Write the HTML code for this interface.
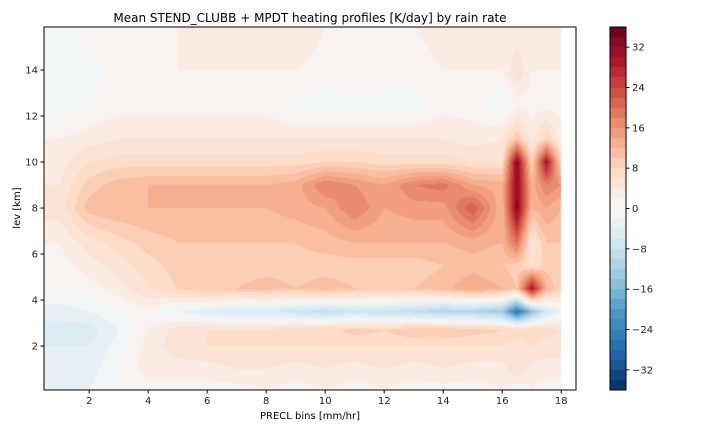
<!DOCTYPE html>
<html><head><meta charset="utf-8"><style>
body{margin:0;background:#fff;width:720px;height:432px;overflow:hidden;font-family:"DejaVu Sans","Liberation Sans",sans-serif}
#wrap{position:relative;width:720px;height:432px}
canvas{position:absolute;left:0;top:0}
svg{position:absolute;left:0;top:0}
</style></head><body>
<div id="wrap">
<canvas id="cv" width="720" height="432"></canvas>
<svg id="sv" width="720" height="432"></svg>
</div>
<script>
// data
const xBins=[1,2,3,4,5,6,7,8,9,10,11,12,13,14,15,16,16.5,17,17.5,18];
const levKm=[0.1,1,2,2.7,3.5,4.5,5.5,6.5,8,9,10,11,12.5,14,15.9];
const row000=[-2,-2,0,1,1,1,1,2,1,2,1,2,1,1,1,2,0,2,1,1];
const row010=[-3,-3,0,3,3,3,4,4,3,4,3,4,3,4,3,3,6,3,3,3];
const row020=[-4,-4,-1,3,5,6,6,6,6,6,6,6,6,6,6,6,5,6,5,5];
const row027=[-5,-5,-2,2,5,6,6,6,7,7,9,8,10,10,9,8,7,8,7,6];
const row035=[-3,-2,0,1,-2,-4,-6,-6,-7,-9,-7,-8,-9,-11,-11,-13,-26,-15,-6,-2];
const row045=[0,1,3,6,8,10,10,11,10,11,10,10,10,11,14,12,10,30,12,8];
const row055=[1,3,5,7,9,9,9,9,9,9,9,9,9,10,11,10,9,6,9,9];
const row065=[2,5,7,9,10,10,10,10,10,11,12,12,12,12,13,12,20,4,10,10];
const row080=[5,11,12,12,12,12,12,12,13,14,18,14,15,15,22,12,33,12,14,12];
const row090=[4,9,11,12,12,12,12,12,13,18,16,14,18,19,14,13,32,13,18,16];
const row100=[3,6,7,7,7,7,7,7,7,8,8,7,7,7,6,6,33,8,30,8];
const row110=[2,3,4,4,4,4,4,4,4,4,4,4,4,4,3,4,10,3,8,3];
const row125=[-1,0,1,1,1,1,1,1,-1,-1,-1,-1,-1,1,1,-2,1,1,1,1];
const row140=[-2,-1,1,1,2,2,2,2,2,1,2,1,1,2,2,2,6,2,2,2];
const row159=[-1,1,2,2,2,2,2,2,4,2,2,2,2,3,2,2,2,2,3,2];
const rows=[row000,row010,row020,row027,row035,row045,row055,row065,row080,row090,row100,row110,row125,row140,row159];
const cbTicks=[-32,-24,-16,-8,0,8,16,24,32];
const xTicks=[2,4,6,8,10,12,14,16,18];
const yTicks=[2,4,6,8,10,12,14];

const L=44,R=576,T=27,B=390,X0=0.47,X1=18.5,Y0=0.09,Y1=15.87;
const xs=v=>L+(v-X0)/(X1-X0)*(R-L), ys=v=>B-(v-Y0)/(Y1-Y0)*(B-T);
const xi=p=>X0+(p-L)/(R-L)*(X1-X0), yi=p=>Y0+(B-p)/(B-T)*(Y1-Y0);
const anchors=["#053061","#2166ac","#4393c3","#92c5de","#d1e5f0","#f7f7f7","#fddbc7","#f4a582","#d6604d","#b2182b","#67001f"].map(h=>[parseInt(h.slice(1,3),16),parseInt(h.slice(3,5),16),parseInt(h.slice(5,7),16)]);
function cmap(t){t=Math.max(0,Math.min(1,t));const f=t*10,i=Math.min(9,Math.floor(f)),u=f-i;return anchors[i].map((c,k)=>Math.round(c+(anchors[i+1][k]-c)*u));}
const VMIN=-36,VMAX=36,STEP=2;
function bandColor(v){let b=Math.floor((v-VMIN)/STEP);b=Math.max(0,Math.min(35,b));return cmap((b+0.5)/36);}
function seg(arr,v){let i=0;while(i<arr.length-2&&v>arr[i+1])i++;let u=(v-arr[i])/(arr[i+1]-arr[i]);return [i,Math.max(0,Math.min(1,u))];}
function val(x,y){const [i,u]=seg(xBins,x),[j,w]=seg(levKm,y);const a=rows[j][i],b=rows[j][i+1],c=rows[j+1][i],d=rows[j+1][i+1];return (a*(1-u)+b*u)*(1-w)+(c*(1-u)+d*u)*w;}
const ctx=document.getElementById('cv').getContext('2d');
const img=ctx.createImageData(720,432);
const xEnd=xs(18);
for(let py=T;py<B;py++)for(let px=L;px<R;px++){let o=(py*720+px)*4;let c;if(px+0.5>xEnd){c=[255,255,255];}else{c=bandColor(val(xi(px+0.5),yi(py+0.5)));}img.data[o]=c[0];img.data[o+1]=c[1];img.data[o+2]=c[2];img.data[o+3]=255;}
// colorbar
const CL=610,CR=626,CT=27,CB=390;
const cys=v=>CB-(v-VMIN)/(VMAX-VMIN)*(CB-CT);
for(let py=CT;py<CB;py++)for(let px=CL;px<CR;px++){let o=(py*720+px)*4;let c=bandColor(VMIN+(CB-py-0.5)/(CB-CT)*(VMAX-VMIN));img.data[o]=c[0];img.data[o+1]=c[1];img.data[o+2]=c[2];img.data[o+3]=255;}
ctx.putImageData(img,0,0);

const sv=document.getElementById('sv');const NS="http://www.w3.org/2000/svg";
function mk(t,a,txt){const e=document.createElementNS(NS,t);for(const k in a)e.setAttribute(k,a[k]);if(txt!==undefined)e.textContent=txt;sv.appendChild(e);return e;}
let e;
e=mk('rect',{x:L,y:T,width:R-L,height:B-T,fill:'none',stroke:'#000','stroke-width':1});


e=mk('rect',{x:CL,y:CT,width:CR-CL,height:CB-CT,fill:'none',stroke:'#000','stroke-width':1});


xTicks.forEach(v=>{const x=xs(v);mk('line',{x1:x,x2:x,y1:B,y2:B+3.5,stroke:'#000'});e=mk('text',{x:x,y:B+14,'text-anchor':'middle','font-size':10,fill:'#222'},String(v));

});
yTicks.forEach(v=>{const y=ys(v);mk('line',{x1:L-3.5,x2:L,y1:y,y2:y,stroke:'#000'});e=mk('text',{x:L-6,y:y+3.5,'text-anchor':'end','font-size':10,fill:'#222'},String(v));

});
cbTicks.forEach(v=>{const y=cys(v);mk('line',{x1:CR,x2:CR+3.5,y1:y,y2:y,stroke:'#000'});e=mk('text',{x:CR+6,y:y+3.5,'font-size':10,fill:'#222'},String(v).replace('-','\u2212'));

});
e=mk('text',{x:310,y:22,'text-anchor':'middle','font-size':12,fill:'#000'},'Mean STEND_CLUBB + MPDT heating profiles [K/day] by rain rate');


e=mk('text',{x:310,y:419,'text-anchor':'middle','font-size':10,fill:'#000'},'PRECL bins [mm/hr]');


e=mk('text',{x:20,y:208,'text-anchor':'middle','font-size':10,fill:'#000',transform:'rotate(-90 20 208)'},'lev [km]');


</script>
</body></html>
